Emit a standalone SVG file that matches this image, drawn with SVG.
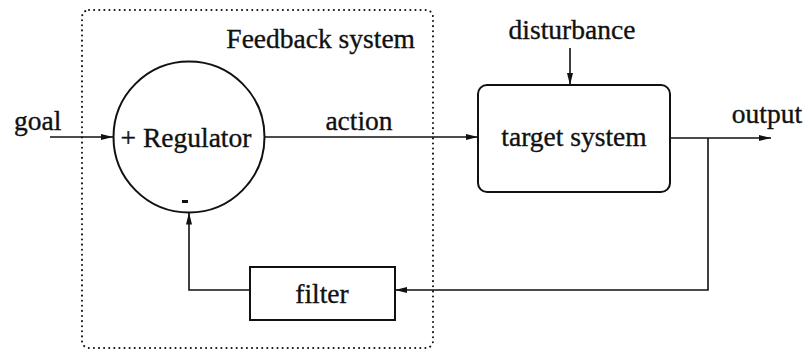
<svg xmlns="http://www.w3.org/2000/svg" width="805" height="352" viewBox="0 0 805 352">
  <defs>
    <marker id="arrow" viewBox="0 0 12 6" refX="12" refY="3" markerWidth="12" markerHeight="6" markerUnits="userSpaceOnUse" orient="auto">
      <path d="M0,0 L12,3 L0,6 Z" fill="#111"/>
    </marker>
    <style>
      .lbl { font-family: "Liberation Serif", "Times New Roman", serif; font-size: 27.5px; fill: #111; stroke: #111; stroke-width: 0.35; }
      .shape { fill: none; stroke: #111; stroke-width: 2; }
      .wire { fill: none; stroke: #111; stroke-width: 1.6; }
      .dotted { fill: none; stroke: #111; stroke-width: 2; stroke-dasharray: 0.1 5; stroke-linecap: round; }
    </style>
  </defs>
  <rect width="805" height="352" fill="#fff"/>

  <!-- feedback system boundary -->
  <g id="feedback-system">
    <rect class="dotted" x="82" y="10" width="351" height="338" rx="7"/>
    <text class="lbl" x="415" y="48" text-anchor="end">Feedback system</text>
  </g>

  <g id="regulator">
    <circle class="shape" cx="189" cy="137" r="75.5"/>
    <text class="lbl" x="186" y="147" text-anchor="middle">+ Regulator</text>
    <rect x="182" y="200" width="6" height="3" fill="#111"/>
  </g>

  <g id="target-system">
    <rect class="shape" x="478" y="85" width="192" height="107" rx="9"/>
    <text class="lbl" x="574" y="146" text-anchor="middle">target system</text>
  </g>

  <g id="filter">
    <rect class="shape" x="250" y="267" width="145" height="53"/>
    <text class="lbl" x="322" y="303" text-anchor="middle">filter</text>
  </g>

  <g id="connectors">
    <line class="wire" x1="50" y1="137" x2="113" y2="137" marker-end="url(#arrow)"/>
    <line class="wire" x1="265" y1="137" x2="478" y2="137" marker-end="url(#arrow)"/>
    <line class="wire" x1="570" y1="48" x2="570" y2="85" marker-end="url(#arrow)"/>
    <line class="wire" x1="670" y1="138" x2="771" y2="138" marker-end="url(#arrow)"/>
    <polyline class="wire" points="708,138 708,290 395,290" marker-end="url(#arrow)"/>
    <polyline class="wire" points="250,290 189,290 189,212.5" marker-end="url(#arrow)"/>
  </g>

  <g id="labels">
    <text class="lbl" x="14" y="130">goal</text>
    <text class="lbl" x="359" y="130" text-anchor="middle">action</text>
    <text class="lbl" x="572" y="39" text-anchor="middle">disturbance</text>
    <text class="lbl" x="767" y="123" text-anchor="middle">output</text>
  </g>
</svg>
